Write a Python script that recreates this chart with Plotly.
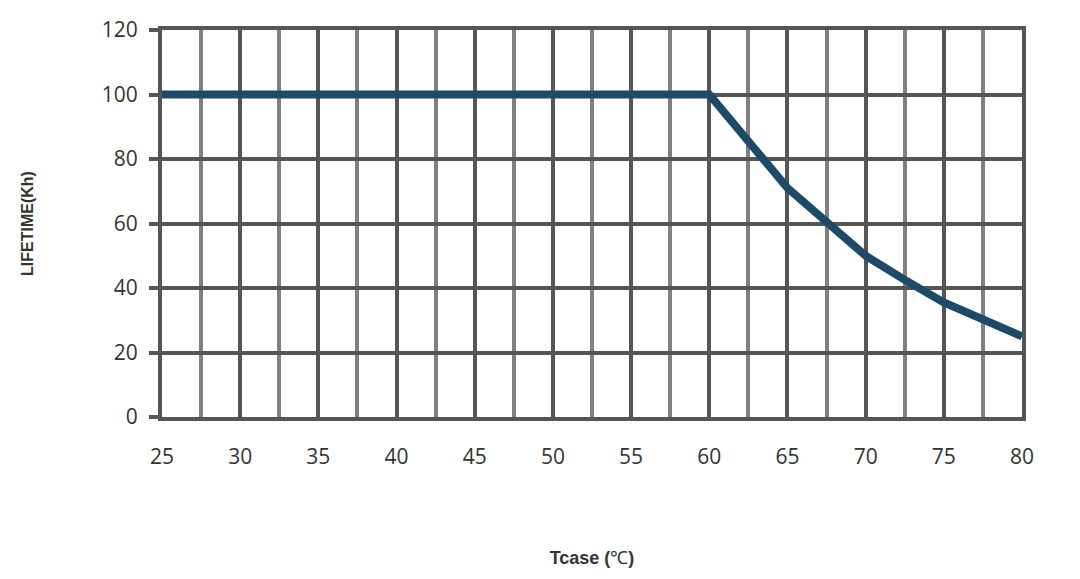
import plotly.graph_objects as go

# temperature (Tcase, degC) vs lifetime (Kh)
tcase = [25, 60, 65, 70, 72.5, 75, 80]
lifetime = [100, 100, 71, 50, 42.5, 35.5, 25]

x_ticks = [25, 30, 35, 40, 45, 50, 55, 60, 65, 70, 75, 80]
y_ticks = [0, 20, 40, 60, 80, 100, 120]

dark = '#555555'
light = '#808080'
tick_font = dict(family='Open Sans, sans-serif', size=21, color='#333333')
title_font = dict(family='Liberation Sans Narrow, Arial Narrow, sans-serif', size=18, color='#333333')

fig = go.Figure()
fig.add_trace(go.Scatter(
    x=tcase,
    y=lifetime,
    mode='lines',
    line=dict(color='#1e4a6a', width=8),
    showlegend=False,
))

fig.update_xaxes(
    range=[25, 80],
    tickmode='array',
    tickvals=x_ticks,
    ticktext=[str(t) for t in x_ticks],
    tickfont=tick_font,
    ticklabelstandoff=18,
    showgrid=True,
    gridcolor=dark,
    gridwidth=3.5,
    minor=dict(dtick=2.5, showgrid=True, gridcolor=light, gridwidth=3.5),
    showline=True,
    linecolor=dark,
    linewidth=4,
    mirror=True,
    ticks='',
    zeroline=False,
    automargin=False,
    title=dict(text='<b>Tcase (</b>℃<b>)</b>', font=title_font, standoff=83),
)

fig.update_yaxes(
    range=[0, 120],
    tickmode='array',
    tickvals=y_ticks,
    tickfont=tick_font,
    ticklabelstandoff=7,
    showgrid=True,
    gridcolor=dark,
    gridwidth=3.5,
    showline=True,
    linecolor=dark,
    linewidth=4,
    mirror=True,
    ticks='outside',
    ticklen=9,
    tickwidth=4,
    tickcolor=dark,
    zeroline=False,
    automargin=False,
    title=dict(text='<b>LIFETIME(Kh)</b>', font=dict(family=title_font['family'], size=16, color='#333333'), standoff=65),
)

# page body has an 8px margin, so shift the plot area up/left to compensate
fig.update_layout(
    width=1080,
    height=579,
    margin=dict(l=154, r=66, t=22, b=170),
    plot_bgcolor='white',
    paper_bgcolor='white',
)

fig.write_html("out.html")
